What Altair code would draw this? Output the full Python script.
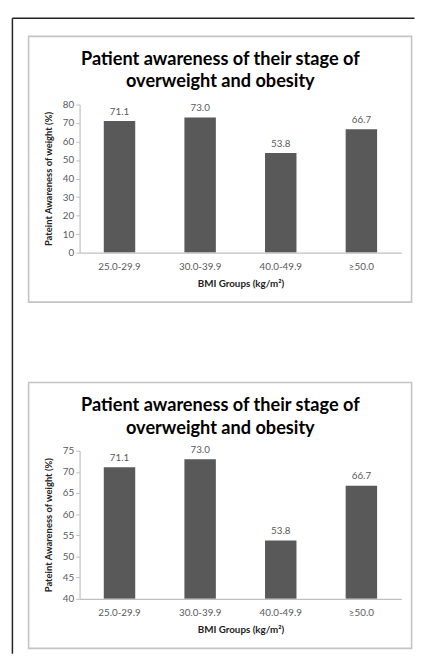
import altair as alt
import pandas as pd

groups = ["25.0-29.9", "30.0-39.9", "40.0-49.9", "≥50.0"]
values = [71.1, 73.0, 53.8, 66.7]
title_lines = ["Patient awareness of their stage of", "overweight and obesity"]
y_title = "Pateint Awareness of weight (%)"
x_title = "BMI Groups (kg/m²)"
ticks_top = [0, 10, 20, 30, 40, 50, 60, 70, 80]
ticks_bottom = [40, 45, 50, 55, 60, 65, 70, 75]

df = pd.DataFrame({"group": groups, "value": values})
one = pd.DataFrame({"k": [0]})

FONT = "Lato"
BAR = "#595959"
GRAY_TEXT = "#595959"
AXIS_GRAY = "#bfbfbf"
W, H = 328, 151


def panel(lo, hi, tick_vals, outer=False):
    xenc = alt.X(
        "group:N",
        sort=groups,
        scale=alt.Scale(paddingInner=0.61, paddingOuter=0.3),
        axis=alt.Axis(
            title=x_title, labelAngle=0, ticks=False, tickSize=0, labelPadding=9,
            labelFontSize=10, labelColor=GRAY_TEXT, labelFont=FONT,
            domainColor=AXIS_GRAY, domainWidth=1.2, zindex=1,
            titleFont=FONT, titleFontSize=10, titleFontWeight="bold", titleColor="#222222",
            titleY=31.5, titleBaseline="middle",
        ),
    )
    yscale = alt.Scale(domain=[lo, hi], zero=False, nice=False)
    yenc = alt.Y(
        "value:Q",
        scale=yscale,
        axis=alt.Axis(
            title=y_title, values=tick_vals, grid=False, tickSize=4, tickColor=AXIS_GRAY,
            domainColor=AXIS_GRAY, domainWidth=1.2, labelPadding=2, zindex=1,
            labelOverlap=False, labelFontSize=10, labelColor=GRAY_TEXT, labelFont=FONT,
            titleFont=FONT, titleFontSize=9.6, titleFontWeight="bold", titleColor="#222222",
            titleX=-31.5, titleBaseline="middle",
        ),
    )
    frame = alt.Chart(one).mark_rect(fillOpacity=0, stroke="#c4c4c4", strokeWidth=1.6).encode(
        x=alt.value(-52), x2=alt.value(338.5), y=alt.value(-69.5), y2=alt.value(201.5)
    )
    bars = alt.Chart(df).mark_bar(color=BAR).encode(x=xenc, y=yenc, y2=alt.datum(lo))
    labels = alt.Chart(df).mark_text(
        baseline="bottom", dy=-4.5, fontSize=10, color=GRAY_TEXT, font=FONT
    ).encode(
        x=xenc,
        y=yenc,
        text=alt.Text("value:Q", format=".1f"),
    )
    layers = [frame]
    if outer:
        top_line = alt.Chart(one).mark_rule(color="#222222", strokeWidth=1.5).encode(
            x=alt.value(-68.5), x2=alt.value(341.5), y=alt.value(-88)
        )
        left_line = alt.Chart(one).mark_rule(color="#222222", strokeWidth=1.5).encode(
            x=alt.value(-68.5), y=alt.value(-88), y2=alt.value(560)
        )
        layers = [top_line, left_line, frame]
        off = -74.75
    else:
        off = -56.3
    return alt.layer(*layers, bars, labels).properties(
        width=W,
        height=H,
        title=alt.TitleParams(
            text=title_lines, frame="group", anchor="middle", dx=-20.5, offset=off,
            fontSize=18.5, font=FONT, fontWeight="bold", color="#000000", lineHeight=23,
        ),
    )


chart = alt.vconcat(
    panel(0, 80, ticks_top, outer=True),
    panel(40, 75, ticks_bottom),
    spacing=202,
    bounds="flush",
).properties(
    padding={"left": 3, "top": 3, "right": 0, "bottom": 0}
).configure_view(stroke=None)

chart.save("out.html", embed_options={"renderer": "svg", "actions": False})
